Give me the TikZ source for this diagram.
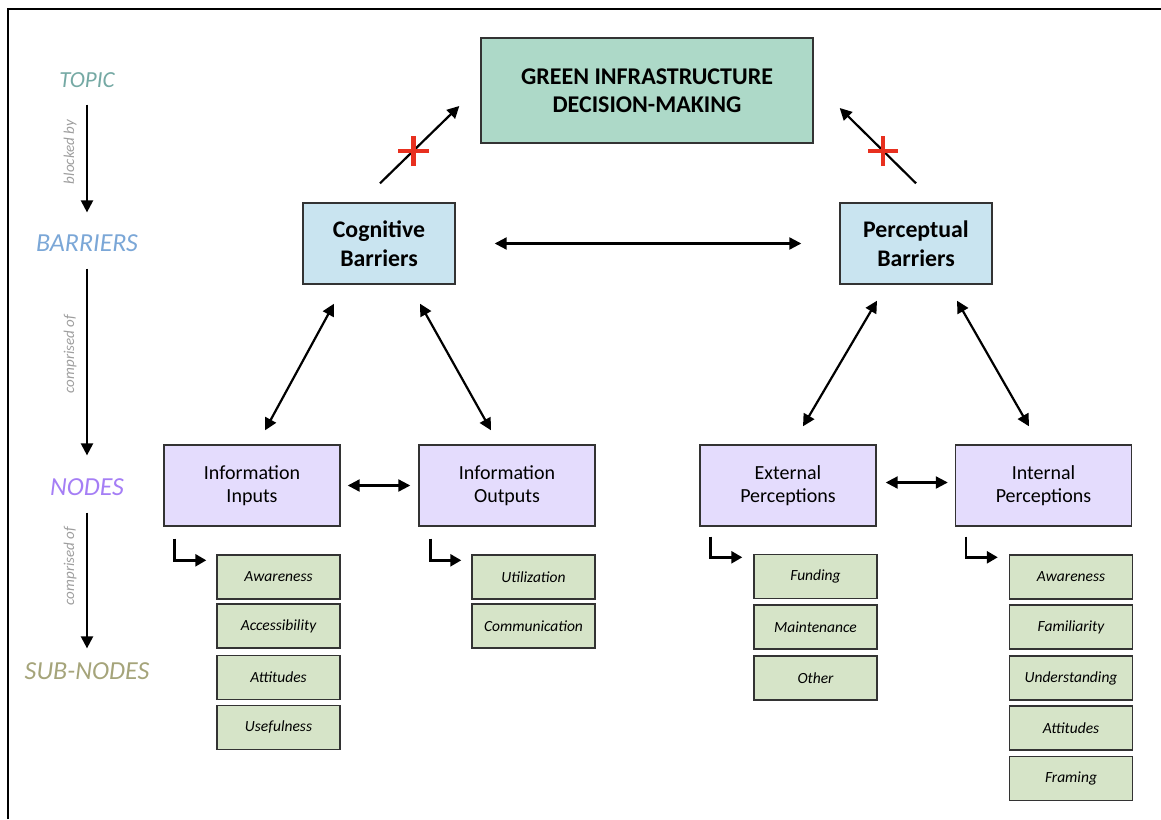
\documentclass[tikz,border=0pt]{standalone}
\usepackage{fontspec}
\setmainfont{Carlito}
\usetikzlibrary{arrows.meta,calc,shapes.misc}
\definecolor{topicfill}{HTML}{ADD9C8}
\definecolor{barfill}{HTML}{C9E4F0}
\definecolor{nodefill}{HTML}{E4DCFD}
\definecolor{subfill}{HTML}{D6E4C8}
\definecolor{topictxt}{HTML}{75A9A4}
\definecolor{bartxt}{HTML}{7BA7D7}
\definecolor{nodetxt}{HTML}{A57EF5}
\definecolor{subtxt}{HTML}{A5A47A}
\definecolor{edge}{HTML}{333333}
\definecolor{stopred}{HTML}{E8301F}

\begin{document}
\begin{tikzpicture}[x=1pt,y=-1pt,>={Triangle[length=12pt,width=12pt]},line width=2.2pt,
  box/.style={draw=edge,line width=1.4pt,align=center,inner sep=0pt},
  topicbox/.style={box,fill=topicfill,minimum width=332,minimum height=105,font=\fontsize{24}{28}\selectfont\bfseries},
  barbox/.style={box,fill=barfill,minimum width=152,minimum height=81,font=\fontsize{23.8}{29}\selectfont\bfseries},
  nodebox/.style={box,fill=nodefill,minimum width=176,minimum height=81,font=\fontsize{20}{23}\selectfont},
  subbox/.style={box,fill=subfill,minimum width=123,minimum height=44,font=\fontsize{15.5}{18}\selectfont\itshape},
  link/.style={<->},
  elbow/.style={->,line width=2.5pt,>={Triangle[length=11pt,width=12pt]}},
  blocked/.style={cross out,draw=stopred,line width=4.5pt,minimum size=17pt,inner sep=0pt,rotate=45},
  lvl/.style={inner sep=0pt,font=\fontsize{26}{30}\selectfont\itshape},
  lvlnote/.style={rotate=90,text=black!38,font=\fontsize{15}{17}\selectfont\itshape}]
\useasboundingbox (0,0) rectangle (1161,819);
\draw[line width=2.5pt] (8,819)--(8,9)--(1161,9);

% levels on the left
\node[lvl,text=topictxt,font=\fontsize{23}{27}\selectfont\itshape] (ltopic) at (87,80) {TOPIC};
\node[lvl,text=bartxt] (lbar) at (87,243) {BARRIERS};
\node[lvl,text=nodetxt] (lnode) at (87,487) {NODES};
\node[lvl,text=subtxt] (lsub) at (87,671) {SUB-NODES};
\draw[->,shorten <=16pt,shorten >=21pt] (ltopic)--(lbar);
\draw[->,shorten <=16pt,shorten >=22pt] (lbar)--(lnode);
\draw[->,shorten <=16pt,shorten >=13pt] (lnode)--(lsub);
\node[lvlnote] at (70,152) {blocked by};
\node[lvlnote] at (70,354) {comprised of};
\node[lvlnote] at (70,566) {comprised of};

% main boxes
\node[topicbox] (title) at (647,90.5) {GREEN INFRASTRUCTURE\\DECISION-MAKING};
\node[barbox] (cog) at (379,243.5) {Cognitive\\Barriers};
\node[barbox] (per) at (916,243.5) {Perceptual\\Barriers};
\node[nodebox] (inp) at (252,485.5) {Information\\Inputs};
\node[nodebox] (outp) at (507,485.5) {Information\\Outputs};
\node[nodebox] (ext) at (788,485.5) {External\\Perceptions};
\node[nodebox] (intl) at (1043.5,485.5) {Internal\\Perceptions};

% sub-nodes
\node[subbox] (inp1) at (278.5,577) {Awareness};
\node[subbox] (inp2) at (278.5,626) {Accessibility};
\node[subbox] (inp3) at (278.5,677.5) {Attitudes};
\node[subbox] (inp4) at (278.5,727.5) {Usefulness};
\node[subbox] (outp1) at (533.5,577) {Utilization};
\node[subbox] (outp2) at (533.5,626) {Communication};
\node[subbox] (ext1) at (815.5,576.5) {Funding};
\node[subbox] (ext2) at (815.5,627) {Maintenance};
\node[subbox] (ext3) at (815.5,678) {Other};
\node[subbox] (intl1) at (1071,577) {Awareness};
\node[subbox] (intl2) at (1071,627) {Familiarity};
\node[subbox] (intl3) at (1071,678) {Understanding};
\node[subbox] (intl4) at (1071,728) {Attitudes};
\node[subbox] (intl5) at (1071,778.5) {Framing};

% blocked links to the topic
\draw[->] ($(cog.north)+(1,-19)$)--node[pos=.42,blocked]{} ($(title.west)+(-21,15.5)$);
\draw[->] ($(per.north)+(0,-19)$)--node[pos=.43,blocked]{} ($(title.east)+(26,17.5)$);

% links between boxes
\draw[link,shorten <=39pt,shorten >=38pt] (cog.east)--(per.west);
\draw[link] ($(cog.south)+(-45,19)$)--($(inp.north)+(13,-14)$);
\draw[link] ($(cog.south)+(41,19)$)--($(outp.north)+(-16,-14)$);
\draw[link] ($(per.south)+(-39,16)$)--($(ext.north)+(15,-18)$);
\draw[link] ($(per.south)+(41,16)$)--($(intl.north)+(-14.5,-18)$);
\draw[link,shorten <=7pt,shorten >=8pt] (inp.east)--(outp.west);
\draw[link] ($(ext.east)+(9,-3)$)--($(intl.west)+(-7,-3)$);

% elbows to the sub-nodes
\draw[elbow] ($(inp.south west)+(11,12)$)|-($(inp1.north west)+(-10,6)$);
\draw[elbow] ($(outp.south west)+(12,12)$)|-($(outp1.north west)+(-10,6)$);
\draw[elbow] ($(ext.south west)+(11,10)$)|-($(ext1.north west)+(-11,3.5)$);
\draw[elbow] ($(intl.south west)+(11,10)$)|-($(intl1.north west)+(-11,3)$);
\end{tikzpicture}
\end{document}
